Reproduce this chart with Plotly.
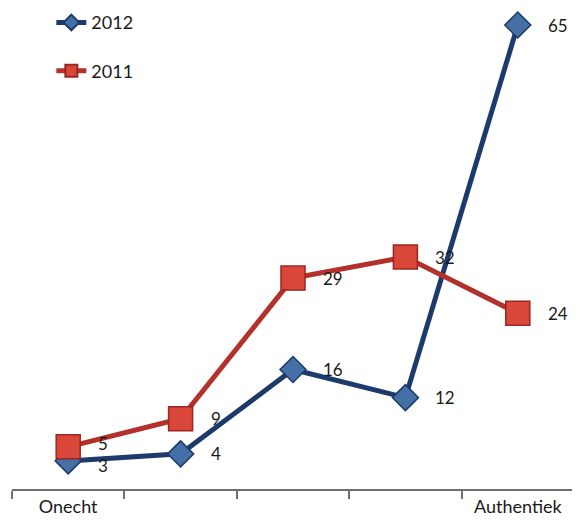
import plotly.graph_objects as go

categories = ["Onecht", " ", "  ", "   ", "Authentiek"]
series_2012 = [3, 4, 16, 12, 65]
series_2011 = [5, 9, 29, 32, 24]

BLUE_LINE = "#1c3b6c"
BLUE_FILL = "#4570a6"
RED_LINE = "#b3302b"
RED_FILL = "#d9473b"
RED_EDGE = "#9a2621"
FONT = "Lato"
TXT = "#1a1a1a"

fig = go.Figure()
fig.add_trace(go.Scatter(
    x=categories, y=series_2012, name="2012", mode="lines+markers",
    line=dict(color=BLUE_LINE, width=5),
    marker=dict(symbol="diamond", size=20, color=BLUE_FILL,
                line=dict(color=BLUE_LINE, width=1.5)),
    legendgroup="a",
))
fig.add_trace(go.Scatter(
    x=categories, y=series_2011, name="2011", mode="lines+markers",
    line=dict(color=RED_LINE, width=5),
    marker=dict(symbol="square", size=24, color=RED_FILL,
                line=dict(color=RED_EDGE, width=1.5)),
    legendgroup="b",
))

annotations = []
for name, vals in (("2012", series_2012), ("2011", series_2011)):
    for i, v in enumerate(vals):
        ys = 0
        if i == 0:
            ys = -5 if name == "2012" else 3
        annotations.append(dict(
            x=i, y=v, xref="x", yref="y", text=str(v), showarrow=False,
            xanchor="left", yanchor="middle", xshift=28, yshift=ys,
            font=dict(family=FONT, size=17, color=TXT),
        ))

fig.update_layout(
    width=572, height=514,
    margin=dict(l=4, r=6, t=2, b=33, autoexpand=False),
    paper_bgcolor="white", plot_bgcolor="white",
    showlegend=True,
    legend=dict(x=0.07, y=1.012, xanchor="left", yanchor="top",
                font=dict(family=FONT, size=18, color=TXT),
                itemsizing="constant", tracegroupgap=22,
                traceorder="grouped", bgcolor="rgba(0,0,0,0)"),
    annotations=annotations,
    font=dict(family=FONT, size=18, color=TXT),
)
fig.update_xaxes(
    type="category", categoryorder="array", categoryarray=categories,
    range=[-0.5, 4.5], tickson="boundaries", ticks="outside", ticklen=8,
    tickwidth=2, tickcolor="#6e6e6e", showline=True, linecolor="#6e6e6e",
    linewidth=2, showgrid=False, zeroline=False,
    tickfont=dict(family=FONT, size=18, color=TXT),
)
fig.update_yaxes(
    range=[-1.0, 67.14], visible=False, showgrid=False, zeroline=False,
)

fig.write_html("out.html")
